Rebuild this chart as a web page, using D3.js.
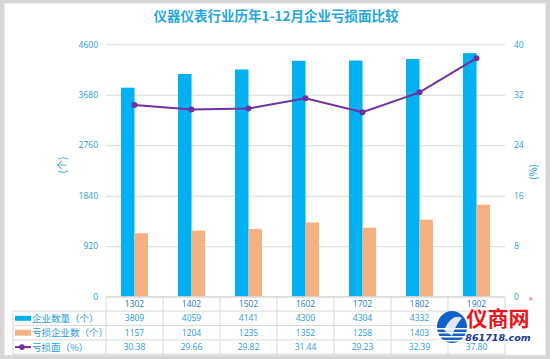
<!DOCTYPE html>
<html><head><meta charset="utf-8">
<script src="https://cdn.jsdelivr.net/npm/d3@7"></script>
<style>
html,body{margin:0;padding:0;background:#fff;}
svg{display:block;font-family:"Noto Sans CJK SC","Noto Sans",sans-serif;}
</style></head>
<body>
<svg id="c" width="550" height="359"></svg>
<script>
const categories = ['1302','1402','1502','1602','1702','1802','1902'];
const enterprises = [3809,4059,4141,4300,4304,4332,4440];
const losses = [1157,1204,1235,1352,1258,1403,1678];
const lossRate = [30.38,29.66,29.82,31.44,29.23,32.39,37.80];
const leftTicks = [0,920,1840,2760,3680,4600];
const rightTicks = [0,8,16,24,32,40];
const seriesNames = ['企业数量（个）','亏损企业数（个）','亏损面（%）'];
const title = '仪器仪表行业历年1-12月企业亏损面比较';

const svg = d3.select('#c');
const W = 550, H = 359;
const blue = '#00B0F0', orange = '#F4B183', purple = '#7030A0';
const txtBlue = '#1F9BD7', catBlue = '#2E75B6', grid = '#d9d9d9';

// frame
svg.append('rect').attr('x',0).attr('y',0).attr('width',W).attr('height',H).attr('fill','#d6d6d6');
svg.append('rect').attr('x',4.5).attr('y',3.5).attr('width',W-9).attr('height',H-7.5).attr('fill','#fff').attr('stroke','#ececec');

svg.append('text').attr('x',276).attr('y',21).attr('text-anchor','middle')
  .attr('font-size',13.5).attr('font-weight','bold').attr('fill','#25A7DD').text(title);

const x = d3.scaleBand().domain(categories).range([106,505]).padding(0);
const xi = d3.scaleBand().domain(['a','b']).range([x.bandwidth()*0.263, x.bandwidth()*0.737]).padding(0);
const yL = d3.scaleLinear().domain([0,4600]).range([296.7,44.3]);
const yR = d3.scaleLinear().domain([0,40]).range([296.7,44.3]);

// gridlines
const gAx = svg.append('g').attr('transform','translate(106,0)')
  .call(d3.axisRight(yL).tickValues(leftTicks).tickSize(399).tickFormat(''));
gAx.select('.domain').remove();
gAx.selectAll('line').attr('stroke',grid).attr('stroke-width',1);

// left axis
const gl = svg.append('g').attr('transform','translate(106,0)')
  .call(d3.axisLeft(yL).tickValues(leftTicks).tickSize(0).tickPadding(8).tickFormat(d3.format('d')));
gl.select('.domain').remove();
gl.selectAll('text').attr('fill',txtBlue).attr('font-size',8.5).attr('font-family','"Open Sans",sans-serif');

// right axis
const gr = svg.append('g').attr('transform','translate(505,0)')
  .call(d3.axisRight(yR).tickValues(rightTicks).tickSize(0).tickPadding(9).tickFormat(d3.format('d')));
gr.select('.domain').remove();
gr.selectAll('text').attr('fill',txtBlue).attr('font-size',8.5).attr('font-family','"Open Sans",sans-serif');

svg.append('text').attr('transform','translate(66,165) rotate(-90)').attr('text-anchor','middle')
  .attr('font-size',10).attr('fill',txtBlue).text('(个)');
svg.append('text').attr('transform','translate(537,172) rotate(-90)').attr('text-anchor','middle')
  .attr('font-size',10).attr('fill',txtBlue).text('(%)');

// bars
svg.append('g').selectAll('rect').data(categories).join('rect')
  .attr('x',(d)=>x(d)+xi('a')).attr('width',xi.bandwidth())
  .attr('y',(d,i)=>yL(enterprises[i])).attr('height',(d,i)=>yL(0)-yL(enterprises[i]))
  .attr('fill',blue);
svg.append('g').selectAll('rect').data(categories).join('rect')
  .attr('x',(d)=>x(d)+xi('b')).attr('width',xi.bandwidth())
  .attr('y',(d,i)=>yL(losses[i])).attr('height',(d,i)=>yL(0)-yL(losses[i]))
  .attr('fill',orange);

// line
const line = d3.line().x((d,i)=>x(categories[i])+x.bandwidth()/2).y(d=>yR(d));
svg.append('path').datum(lossRate).attr('d',line).attr('fill','none').attr('stroke',purple).attr('stroke-width',2);
svg.append('g').selectAll('circle').data(lossRate).join('circle')
  .attr('cx',(d,i)=>x(categories[i])+x.bandwidth()/2).attr('cy',d=>yR(d)).attr('r',3).attr('fill',purple);

// data table
const rowTop = 296.7, rh = 14.4;
const tg = svg.append('g');
const lineY = [rowTop, rowTop+rh, rowTop+2*rh, rowTop+3*rh, rowTop+4*rh];
tg.append('line').attr('x1',106).attr('x2',505).attr('y1',lineY[0]).attr('y2',lineY[0]).attr('stroke',grid);
for (let k=1;k<5;k++) tg.append('line').attr('x1',13).attr('x2',505).attr('y1',lineY[k]).attr('y2',lineY[k]).attr('stroke',grid);
const vx = categories.map(c=>x(c)).concat([505]);
vx.forEach(v=>tg.append('line').attr('x1',v).attr('x2',v).attr('y1',lineY[0]).attr('y2',lineY[4]).attr('stroke',grid));
tg.append('line').attr('x1',13).attr('x2',13).attr('y1',lineY[1]).attr('y2',lineY[4]).attr('stroke',grid);

const rows = [categories, enterprises, losses, lossRate.map(v=>v.toFixed(2))];
rows.forEach((r,ri)=>{
  tg.append('g').selectAll('text').data(r).join('text')
    .attr('x',(d,i)=>x(categories[i])+x.bandwidth()/2)
    .attr('y',rowTop+rh*ri+rh/2+3)
    .attr('text-anchor','middle').attr('font-size',8.5)
    .attr('font-family','"Open Sans",sans-serif')
    .attr('fill',ri===0?catBlue:txtBlue).text(d=>d);
});
// legend keys
tg.append('rect').attr('x',15).attr('y',rowTop+rh*1+rh/2-2.5).attr('width',16).attr('height',5).attr('fill',blue);
tg.append('rect').attr('x',15).attr('y',rowTop+rh*2+rh/2-3).attr('width',16).attr('height',6).attr('fill',orange);
tg.append('line').attr('x1',15).attr('x2',31).attr('y1',rowTop+rh*3+rh/2).attr('y2',rowTop+rh*3+rh/2).attr('stroke',purple).attr('stroke-width',2);
tg.append('circle').attr('cx',22).attr('cy',rowTop+rh*3+rh/2).attr('r',2.8).attr('fill',purple);
seriesNames.forEach((s,i)=>{
  tg.append('text').attr('x',32).attr('y',rowTop+rh*(i+1)+rh/2+3.5)
    .attr('font-size',9.5).attr('fill',txtBlue).text(s);
});

// watermark logo (covers part of the last column, as in the source image)
const lg = svg.append('g');
lg.append('rect').attr('x',468).attr('y',312).attr('width',64).attr('height',25).attr('fill','#fff');
lg.append('ellipse').attr('cx',452).attr('cy',327).attr('rx',15).attr('ry',16).attr('fill','#1560c8');
for (let k=0;k<4;k++) lg.append('rect').attr('x',437).attr('y',328+k*4).attr('width',30).attr('height',1.5).attr('fill','#fff');
lg.append('path').attr('d','M444,330 Q452,313 462,318 Q456,324 452,336 Z').attr('fill','#fff').attr('opacity',0.85);
lg.append('text').attr('x',498).attr('y',326).attr('text-anchor','middle').attr('font-size',21).attr('font-weight','bold').attr('fill','#e8161c').text('仪商网');
lg.append('text').attr('x',531).attr('y',303).attr('text-anchor','middle').attr('font-size',7).attr('fill','#e8161c').text('®');
lg.append('text').attr('x',498).attr('y',341).attr('text-anchor','middle').attr('font-size',9.5).attr('font-style','italic').attr('font-weight','bold').attr('fill','#1a3a8c').attr('font-family','"DejaVu Sans",sans-serif').text('861718.com');
</script>
</body></html>
